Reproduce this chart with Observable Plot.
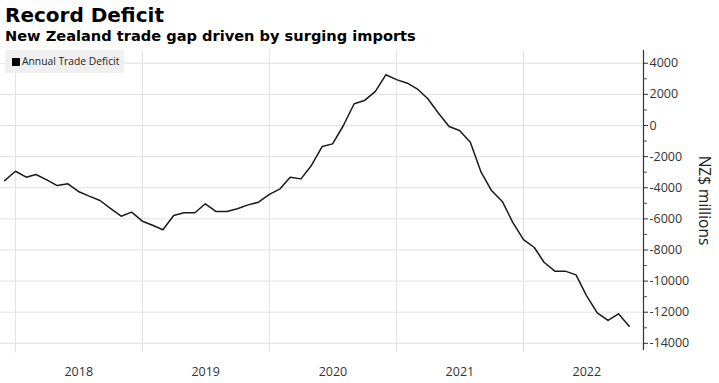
<!DOCTYPE html>
<html>
<head>
<meta charset="utf-8">
<script src="https://cdn.jsdelivr.net/npm/d3@7"></script>
<script src="https://cdn.jsdelivr.net/npm/@observablehq/plot@0.6"></script>
<style>
  html, body { margin: 0; padding: 0; background: #fff; }
  #wrap { position: relative; width: 719px; height: 383px; overflow: hidden; }
  #title { position: absolute; left: 5px; top: 3px; font: bold 20px "DejaVu Sans", sans-serif; color: #000; white-space: nowrap; }
  #subtitle { position: absolute; left: 5px; top: 27px; font: bold 14.6px "DejaVu Sans", sans-serif; color: #000; white-space: nowrap; }
  #chart { position: absolute; left: 0; top: 50px; }
  #legend { position: absolute; left: 5px; top: 50px; width: 119px; height: 23px; background: #f0f0f0; }
  #legend .sw { position: absolute; left: 7px; top: 8px; width: 8px; height: 8px; background: #000; }
  #legend .lb { position: absolute; left: 17px; top: 4px; font: 10.3px "Open Sans", sans-serif; color: #222; white-space: nowrap; }
</style>
</head>
<body>
<div id="wrap">
  <div id="title">Record Deficit</div>
  <div id="subtitle">New Zealand trade gap driven by surging imports</div>
  <div id="chart"></div>
  <div id="legend"><div class="sw"></div><div class="lb">Annual Trade Deficit</div></div>
</div>
<script>
const seriesName = "Annual Trade Deficit";
const months = [
  "2017-12",
  "2018-01","2018-02","2018-03","2018-04","2018-05","2018-06","2018-07","2018-08","2018-09","2018-10","2018-11","2018-12",
  "2019-01","2019-02","2019-03","2019-04","2019-05","2019-06","2019-07","2019-08","2019-09","2019-10","2019-11","2019-12",
  "2020-01","2020-02","2020-03","2020-04","2020-05","2020-06","2020-07","2020-08","2020-09","2020-10","2020-11","2020-12",
  "2021-01","2021-02","2021-03","2021-04","2021-05","2021-06","2021-07","2021-08","2021-09","2021-10","2021-11","2021-12",
  "2022-01","2022-02","2022-03","2022-04","2022-05","2022-06","2022-07","2022-08","2022-09","2022-10","2022-11"
];
const deficit = [
  -3540,
  -2940,-3320,-3150,-3490,-3860,-3750,-4240,-4540,-4820,-5320,-5830,-5570,
  -6150,-6430,-6700,-5780,-5610,-5610,-5030,-5530,-5530,-5350,-5100,-4930,
  -4430,-4070,-3320,-3430,-2570,-1350,-1180,0,1400,1610,2190,3260,
  2950,2720,2360,1720,800,-60,-320,-1070,-3000,-4180,-4880,-6230,
  -7330,-7840,-8790,-9360,-9360,-9600,-10930,-12040,-12530,-12100,-12900
];
const yearLabels = ["2018","2019","2020","2021","2022"];
const yTicks = [4000,2000,0,-2000,-4000,-6000,-8000,-10000,-12000,-14000];
const yMinorTicks = [3000,1000,-1000,-3000,-5000,-7000,-9000,-11000,-13000];
const yLabel = "NZ$ millions";

const data = months.map((m, i) => ({date: new Date(m + "-01T00:00:00Z"), value: deficit[i]}));
const yearStarts = yearLabels.map(y => new Date(y + "-01-01T00:00:00Z"));
const yearMids = yearLabels.map(y => new Date(y + "-07-02T00:00:00Z"));
const xDomain = [new Date("2017-11-19T00:00:00Z"), new Date("2022-12-12T00:00:00Z")];
const yDomain = [-14460, 4820];

const chart = Plot.plot({
  width: 719,
  height: 333,
  marginLeft: 0,
  marginRight: 76,
  marginTop: 0,
  marginBottom: 33,
  style: {fontFamily: "'Open Sans', sans-serif", color: "#333", background: "transparent"},
  x: {type: "utc", domain: xDomain},
  y: {domain: yDomain},
  marks: [
    Plot.gridY(yTicks, {stroke: "#e2e2e2", strokeOpacity: 1}),
    Plot.gridX(yearStarts, {stroke: "#e2e2e2", strokeOpacity: 1, y1: yDomain[0] - 150, y2: yDomain[1]}),
    Plot.axisX(yearMids, {tickSize: 0, tickPadding: 17, tickFormat: (d, i) => yearLabels[i], fontSize: 12.5, label: null, fill: "#333"}),
    Plot.axisY(yTicks, {anchor: "right", tickSize: 4, tickPadding: 2, fontSize: 12.5, label: null, fill: "#333", stroke: "#333", tickFormat: d => String(d)}),
    Plot.axisY(yMinorTicks, {anchor: "right", tickSize: 3, tickFormat: () => "", label: null, stroke: "#555"}),
    Plot.ruleX([xDomain[1]], {stroke: "#333", strokeWidth: 1.2}),
    Plot.text([yLabel], {frameAnchor: "right", textAnchor: "middle", dx: 60, rotate: 90, fontSize: 15.5, fill: "#222"}),
    Plot.line(data, {x: "date", y: "value", stroke: "#1a1a1a", strokeWidth: 1.5})
  ]
});
document.getElementById("chart").appendChild(chart);
</script>
</body>
</html>
